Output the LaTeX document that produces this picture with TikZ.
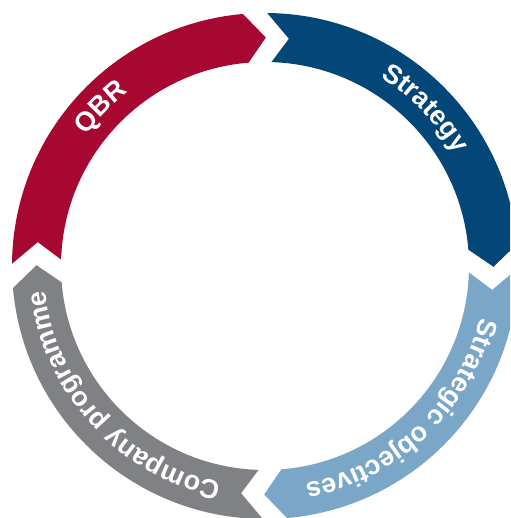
\documentclass[tikz,border=0pt]{standalone}
\usepackage{fontspec}
\setsansfont{Liberation Sans}
\usetikzlibrary{decorations.text}
\definecolor{qbrcol}{RGB}{166,8,50}
\definecolor{stratcol}{RGB}{3,70,120}
\definecolor{objcol}{RGB}{122,166,199}
\definecolor{progcol}{RGB}{128,129,133}
\newcommand{\labfont}{\sffamily\bfseries\fontsize{27pt}{27pt}\selectfont\color{white}}
\newcommand{\ringseg}[2]{%
  \fill[#2] ({#1-0.5}:253pt) arc[start angle={#1-0.5}, end angle={#1-85}, radius=253pt]
    -- ({#1-90.2}:228.5pt) -- ({#1-85.4}:204pt)
    arc[start angle={#1-85.4}, end angle={#1-1.8}, radius=204pt]
    -- ({#1-6}:228.5pt) -- cycle;}
\newcommand{\arclabel}[2]{%
  \path[decorate, decoration={text along path, text align=center, text={|\labfont|#2}}]
    ({#1+42}:221pt) arc[start angle={#1+42}, end angle={#1-42}, radius=221pt];}
\begin{document}
\begin{tikzpicture}
\useasboundingbox (0,0) rectangle (510pt,518pt);
\clip (0,0) rectangle (510pt,518pt);
\begin{scope}[shift={(265pt,252pt)}]
  \coordinate (center) at (0,0);
  \ringseg{180}{qbrcol}
  \ringseg{90}{stratcol}
  \ringseg{0}{objcol}
  \ringseg{270}{progcol}
  \arclabel{136}{QBR}
  \arclabel{44.5}{Strategy}
  \arclabel{-46.5}{Strategic objectives}
  \arclabel{222.5}{Company programme}
\end{scope}
\end{tikzpicture}
\end{document}
